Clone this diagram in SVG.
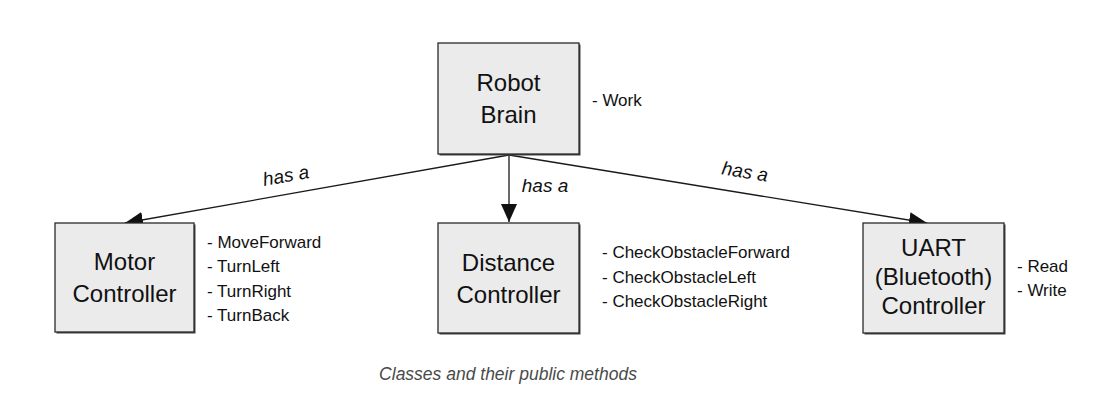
<svg xmlns="http://www.w3.org/2000/svg" width="1106" height="409" viewBox="0 0 1106 409">
<defs>
<style>
.box{fill:#ebebeb;stroke:#2a2a2a;stroke-width:1.3}
.shadow{fill:#444}
.lbl{font-family:"Liberation Sans",Arial,sans-serif;font-size:24px;fill:#111;text-anchor:middle}
.m{font-family:"Liberation Sans",Arial,sans-serif;font-size:17px;fill:#111}
.has{font-family:"Liberation Sans",Arial,sans-serif;font-size:19px;font-style:italic;fill:#111;text-anchor:middle}
.cap{font-family:"Liberation Sans",Arial,sans-serif;font-size:17.5px;font-style:italic;fill:#4a4a4a;text-anchor:middle}
.conn{stroke:#1a1a1a;stroke-width:1.3;fill:none}
</style>
<marker id="ah" markerWidth="18" markerHeight="16" refX="18" refY="8" orient="auto" markerUnits="userSpaceOnUse">
<path d="M0,0 L18,8 L0,16 Z" fill="#111"/>
</marker>
</defs>
<rect width="1106" height="409" fill="#ffffff"/>
<g id="connectors">
<line class="conn" x1="509" y1="155" x2="125" y2="223" marker-end="url(#ah)"/>
<line class="conn" x1="509" y1="155" x2="509" y2="222" marker-end="url(#ah)"/>
<line class="conn" x1="509" y1="155" x2="927" y2="223" marker-end="url(#ah)"/>
<text class="has" transform="translate(287,182) rotate(-10)">has a</text>
<text class="has" x="545" y="192">has a</text>
<text class="has" transform="translate(744,178) rotate(9)">has a</text>
</g>
<g id="robot-brain">
<rect class="shadow" x="439.5" y="44.5" width="141" height="111"/>
<rect class="box" x="438" y="43" width="141" height="111"/>
<text class="lbl" x="508.5" y="91">Robot</text>
<text class="lbl" x="508.5" y="123">Brain</text>
<text class="m" x="592" y="106">- Work</text>
</g>
<g id="motor-controller">
<rect class="shadow" x="56.5" y="224.5" width="139" height="109"/>
<rect class="box" x="55" y="223" width="139" height="109"/>
<text class="lbl" x="124.5" y="270">Motor</text>
<text class="lbl" x="124.5" y="302">Controller</text>
<text class="m" x="207" y="247.5">- MoveForward</text>
<text class="m" x="207" y="272">- TurnLeft</text>
<text class="m" x="207" y="296.5">- TurnRight</text>
<text class="m" x="207" y="321">- TurnBack</text>
</g>
<g id="distance-controller">
<rect class="shadow" x="439.5" y="224.5" width="141" height="110"/>
<rect class="box" x="438" y="223" width="141" height="110"/>
<text class="lbl" x="508.5" y="270.5">Distance</text>
<text class="lbl" x="508.5" y="302.5">Controller</text>
<text class="m" x="602" y="258">- CheckObstacleForward</text>
<text class="m" x="602" y="283">- CheckObstacleLeft</text>
<text class="m" x="602" y="307">- CheckObstacleRight</text>
</g>
<g id="uart-controller">
<rect class="shadow" x="864.5" y="224.5" width="141" height="110"/>
<rect class="box" x="863" y="223" width="141" height="110"/>
<text class="lbl" x="933.5" y="256">UART</text>
<text class="lbl" x="933.5" y="285">(Bluetooth)</text>
<text class="lbl" x="933.5" y="314">Controller</text>
<text class="m" x="1017" y="272">- Read</text>
<text class="m" x="1017" y="296">- Write</text>
</g>
<g id="caption">
<text class="cap" x="508" y="380">Classes and their public methods</text>
</g>
</svg>
